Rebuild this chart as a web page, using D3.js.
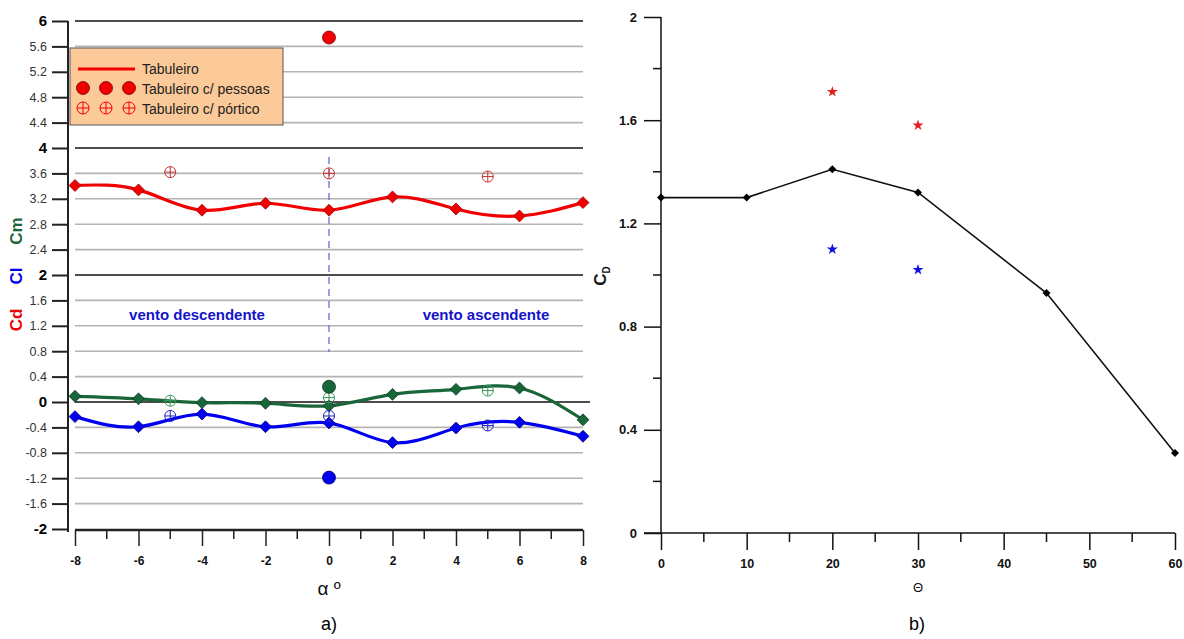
<!DOCTYPE html>
<html><head><meta charset="utf-8">
<script src="https://cdn.jsdelivr.net/npm/d3@7"></script>
<style>body{margin:0;background:#fff}svg{font-family:"Liberation Sans",Arial,sans-serif}</style>
</head><body><svg id="c" width="1184" height="639"></svg>
<script>
// ---- Data: panel a)
const alphas = [-8, -6, -4, -2, 0, 2, 4, 6, 8];
const cdTabuleiro = [3.41, 3.34, 3.02, 3.13, 3.02, 3.23, 3.04, 2.93, 3.14];
const clTabuleiro = [-0.23, -0.39, -0.19, -0.39, -0.33, -0.64, -0.41, -0.32, -0.54];
const cmTabuleiro = [0.09, 0.05, -0.01, -0.02, -0.06, 0.12, 0.20, 0.22, -0.28];
const porticoAlphas = [-5, 0, 5];
const cdPortico = [3.62, 3.60, 3.55];
const clPortico = [-0.22, -0.22, -0.37];
const cmPortico = [0.02, 0.07, 0.18];
const pessoasAlphas = [0];
const cdPessoas = [5.74];
const clPessoas = [-1.19];
const cmPessoas = [0.24];
const yTicksA = [-2, -1.6, -1.2, -0.8, -0.4, 0, 0.4, 0.8, 1.2, 1.6, 2, 2.4, 2.8, 3.2, 3.6, 4, 4.4, 4.8, 5.2, 5.6, 6];
const xTicksA = [-8, -6, -4, -2, 0, 2, 4, 6, 8];
// ---- Data: panel b)
const thetas = [0, 10, 20, 30, 45, 60];
const cdTheta = [1.30, 1.30, 1.41, 1.32, 0.93, 0.31];
const starThetas = [20, 30];
const starRed = [1.71, 1.58];
const starBlue = [1.10, 1.02];
const yTicksB = [0, 0.4, 0.8, 1.2, 1.6, 2];
const xTicksB = [0, 10, 20, 30, 40, 50, 60];

const svg = d3.select("#c");
const RED = "#f00000", BLUE = "#0000f0", GREEN = "#19663a";
const fmt = d => String(+(+d).toFixed(1));

// ================= Panel a =================
const xA = d3.scaleLinear().domain([-8, 8]).range([75, 583]);
const yA = d3.scaleLinear().domain([-2, 6]).range([529, 21]);
const gA = svg.append("g");

gA.selectAll("line.grid").data(yTicksA.filter(v => v > -2)).join("line")
  .attr("x1", 75).attr("x2", d => d === 0 ? 590 : 583)
  .attr("y1", d => yA(d)).attr("y2", d => yA(d))
  .attr("stroke", d => Number.isInteger(d) ? "#111" : "#b4b4b4")
  .attr("stroke-width", d => Number.isInteger(d) ? 1.3 : 1.6);

const gy = gA.append("g").attr("transform", "translate(68,0)")
  .call(d3.axisLeft(yA).tickValues(yTicksA).tickSize(16).tickPadding(5).tickFormat(fmt));
gy.select(".domain").attr("d", "M0,21V532").attr("stroke", "#222").attr("stroke-width", 2);
gy.selectAll(".tick line").attr("stroke", "#222").attr("stroke-width", 2);
gy.selectAll(".tick text").attr("font-size", d => Number.isInteger(d) ? 15 : 12.5)
  .attr("font-weight", d => Number.isInteger(d) ? "bold" : "normal")
  .attr("fill", d => Number.isInteger(d) ? "#000" : "#333");

const gx = gA.append("g").attr("transform", "translate(0,530)")
  .call(d3.axisBottom(xA).tickValues(xTicksA).tickSize(16).tickPadding(10).tickFormat(fmt));
gx.select(".domain").attr("d", "M75,0H583").attr("stroke", "#222").attr("stroke-width", 2.5);
gx.selectAll(".tick line").attr("stroke", "#222").attr("stroke-width", 1.5);
gx.selectAll(".tick text").attr("font-size", 12).attr("font-weight", "bold").attr("fill", "#111");
gA.selectAll("line.minx").data(d3.range(-7, 8, 2)).join("line")
  .attr("x1", d => xA(d)).attr("x2", d => xA(d)).attr("y1", 530).attr("y2", 539)
  .attr("stroke", "#222").attr("stroke-width", 1.5);

gA.append("text").attr("x", 329).attr("y", 595).attr("text-anchor", "middle").attr("font-size", 19)
  .attr("fill", "#111").text("α º");
gA.append("text").attr("x", 329).attr("y", 630).attr("text-anchor", "middle").attr("font-size", 18)
  .attr("fill", "#000").text("a)");
[["Cd", RED, 320], ["Cl", BLUE, 276], ["Cm", GREEN, 231]].forEach(([t, c, y]) => {
  gA.append("text").attr("transform", `translate(22,${y}) rotate(-90)`).attr("text-anchor", "middle")
    .attr("font-size", 17).attr("font-weight", "bold").attr("fill", c).text(t);
});

gA.append("line").attr("x1", xA(0)).attr("x2", xA(0)).attr("y1", 157).attr("y2", 352)
  .attr("stroke", "#6a6ad0").attr("stroke-width", 1.3).attr("stroke-dasharray", "7,5");

gA.append("text").attr("x", 197).attr("y", 320).attr("text-anchor", "middle").attr("font-size", 15)
  .attr("font-weight", "bold").attr("fill", "#1414c8").text("vento descendente");
gA.append("text").attr("x", 486).attr("y", 320).attr("text-anchor", "middle").attr("font-size", 15)
  .attr("font-weight", "bold").attr("fill", "#1414c8").text("vento ascendente");

const diamond = d3.symbol().type(d3.symbolSquare).size(70);
function series(vals, color, stroke) {
  const pts = alphas.map((a, i) => [a, vals[i]]);
  gA.append("path").datum(pts)
    .attr("d", d3.line().x(d => xA(d[0])).y(d => yA(d[1])).curve(d3.curveNatural))
    .attr("fill", "none").attr("stroke", color).attr("stroke-width", 3.2);
  gA.selectAll(null).data(pts).join("path")
    .attr("transform", d => `translate(${xA(d[0])},${yA(d[1])}) rotate(45)`)
    .attr("d", diamond).attr("fill", color).attr("stroke", stroke).attr("stroke-width", 0.8);
}
function crossCircle(g, cx, cy, r, color) {
  g.append("circle").attr("cx", cx).attr("cy", cy).attr("r", r).attr("fill", "none")
    .attr("stroke", color).attr("stroke-width", 1);
  g.append("line").attr("x1", cx - r).attr("x2", cx + r).attr("y1", cy).attr("y2", cy).attr("stroke", color).attr("stroke-width", 1);
  g.append("line").attr("x1", cx).attr("x2", cx).attr("y1", cy - r).attr("y2", cy + r).attr("stroke", color).attr("stroke-width", 1);
}
series(cmTabuleiro, GREEN, "#0e3d22");
series(clTabuleiro, BLUE, "#00008a");
series(cdTabuleiro, RED, "#a00000");

porticoAlphas.forEach((a, i) => {
  crossCircle(gA, xA(a), yA(cdPortico[i]), 5.5, "#c83232");
  crossCircle(gA, xA(a), yA(clPortico[i]), 5.5, "#2020c0");
  crossCircle(gA, xA(a), yA(cmPortico[i]), 5.5, "#3a9a5a");
});
pessoasAlphas.forEach((a, i) => {
  gA.append("circle").attr("cx", xA(a)).attr("cy", yA(cdPessoas[i])).attr("r", 6.5).attr("fill", RED).attr("stroke", "#700").attr("stroke-width", 0.8);
  gA.append("circle").attr("cx", xA(a)).attr("cy", yA(clPessoas[i])).attr("r", 6.5).attr("fill", BLUE).attr("stroke", "#006").attr("stroke-width", 0.8);
  gA.append("circle").attr("cx", xA(a)).attr("cy", yA(cmPessoas[i])).attr("r", 6.5).attr("fill", GREEN).attr("stroke", "#0a3018").attr("stroke-width", 0.8);
});

const lg = gA.append("g");
lg.append("rect").attr("x", 70).attr("y", 48).attr("width", 213).attr("height", 77)
  .attr("fill", "#fcc999").attr("stroke", "#555").attr("stroke-width", 1);
lg.append("line").attr("x1", 78).attr("x2", 135).attr("y1", 69).attr("y2", 69).attr("stroke", RED).attr("stroke-width", 3);
[83, 106, 129].forEach(x => {
  lg.append("circle").attr("cx", x).attr("cy", 88).attr("r", 6.5).attr("fill", RED).attr("stroke", "#700").attr("stroke-width", 0.8);
  crossCircle(lg, x, 108, 6, RED);
});
[["Tabuleiro", 69], ["Tabuleiro c/ pessoas", 89], ["Tabuleiro c/ pórtico", 109]].forEach(([t, y]) => {
  lg.append("text").attr("x", 142).attr("y", y + 5).attr("font-size", 14).attr("fill", "#222").text(t);
});

// ================= Panel b =================
const xB = d3.scaleLinear().domain([0, 60]).range([661, 1175]);
const yB = d3.scaleLinear().domain([0, 2]).range([533, 17]);
const gB = svg.append("g");

const gyB = gB.append("g").attr("transform", "translate(661,0)")
  .call(d3.axisLeft(yB).tickValues(yTicksB).tickSize(17).tickPadding(7).tickFormat(fmt));
gyB.select(".domain").attr("d", "M0,17V533").attr("stroke", "#111").attr("stroke-width", 1.5);
gyB.selectAll(".tick line").attr("stroke", "#111").attr("stroke-width", 1.5);
gyB.selectAll(".tick text").attr("font-size", 13).attr("font-weight", "bold").attr("fill", "#111");
gB.selectAll("line.miny").data([0.2, 0.6, 1.0, 1.4, 1.8]).join("line")
  .attr("x1", 653).attr("x2", 661).attr("y1", d => yB(d)).attr("y2", d => yB(d))
  .attr("stroke", "#111").attr("stroke-width", 1.5);

const gxB = gB.append("g").attr("transform", "translate(0,533)")
  .call(d3.axisBottom(xB).tickValues(xTicksB).tickSize(17).tickPadding(9).tickFormat(fmt));
gxB.select(".domain").attr("d", "M644,0H1175").attr("stroke", "#111").attr("stroke-width", 1.5);
gxB.selectAll(".tick line").attr("stroke", "#111").attr("stroke-width", 1.5);
gxB.selectAll(".tick text").attr("font-size", 12.5).attr("font-weight", "bold").attr("fill", "#111");
gB.selectAll("line.minxb").data([5, 15, 25, 35, 45, 55]).join("line")
  .attr("x1", d => xB(d)).attr("x2", d => xB(d)).attr("y1", 533).attr("y2", 542)
  .attr("stroke", "#111").attr("stroke-width", 1.5);

gB.append("text").attr("x", xB(30)).attr("y", 592).attr("text-anchor", "middle").attr("font-size", 13).attr("fill", "#111").text("Θ");
gB.append("text").attr("x", 917).attr("y", 630).attr("text-anchor", "middle").attr("font-size", 18).attr("fill", "#000").text("b)");
const cdl = gB.append("text").attr("transform", "translate(606,276) rotate(-90)").attr("text-anchor", "middle")
  .attr("font-size", 17).attr("font-weight", "bold").attr("fill", "#111");
cdl.append("tspan").text("C");
cdl.append("tspan").attr("font-size", 10).attr("dy", 4).text("D");

const ptsB = thetas.map((t, i) => [t, cdTheta[i]]);
gB.append("path").datum(ptsB).attr("d", d3.line().x(d => xB(d[0])).y(d => yB(d[1])))
  .attr("fill", "none").attr("stroke", "#111").attr("stroke-width", 1.6);
gB.selectAll(null).data(ptsB).join("path")
  .attr("transform", d => `translate(${xB(d[0])},${yB(d[1])}) rotate(45)`)
  .attr("d", d3.symbol().type(d3.symbolSquare).size(32)).attr("fill", "#000");
const star = d3.symbol().type(d3.symbolStar).size(38);
starThetas.forEach((t, i) => {
  gB.append("path").attr("transform", `translate(${xB(t)},${yB(starRed[i])})`).attr("d", star).attr("fill", "#e02020");
  gB.append("path").attr("transform", `translate(${xB(t)},${yB(starBlue[i])})`).attr("d", star).attr("fill", "#1010e0");
});
</script></body></html>
